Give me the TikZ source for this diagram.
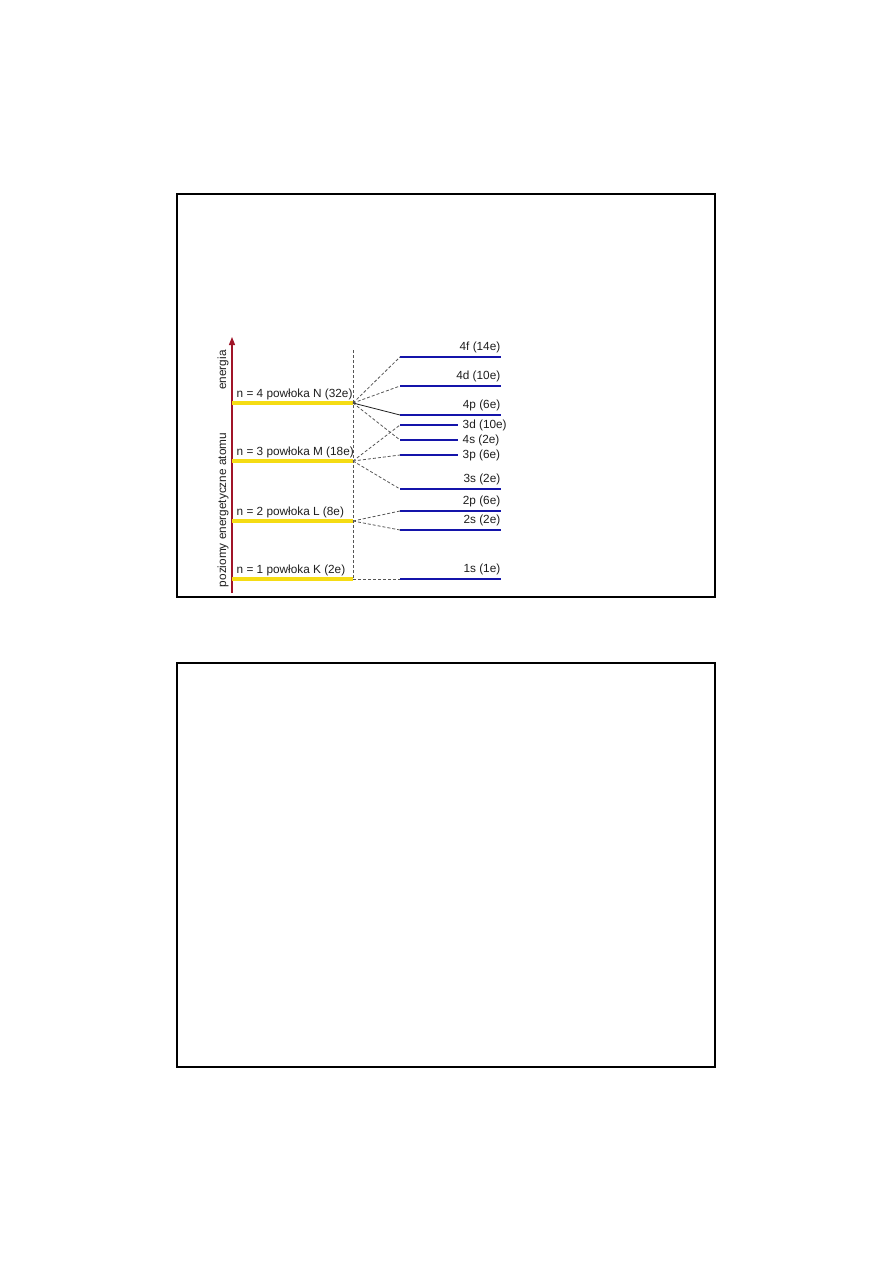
\documentclass[tikz,border=0pt]{standalone}
\usepackage{fontspec}
\setmainfont{Liberation Sans}
\usepackage{tikz}
\usetikzlibrary{arrows.meta}
\usepackage{xcolor}
\definecolor{myred}{RGB}{160,20,40}
\definecolor{myyellow}{RGB}{245,220,20}
\definecolor{myblue}{RGB}{20,20,170}
\definecolor{mygray}{RGB}{85,85,85}
\definecolor{mydark}{RGB}{30,30,30}

\begin{document}
\begin{tikzpicture}[x=1pt,y=-1pt,
  shell/.style={line width=3.8pt,myyellow},
  sub/.style={line width=2.2pt,myblue},
  link/.style={mygray,line width=0.8pt,dash pattern=on 3pt off 2pt},
  lbl/.style={font=\fontsize{11.8}{14}\selectfont,inner sep=0.5pt,text=mydark}]
  \useasboundingbox (0,0) rectangle (893,1263);
  \draw[line width=1.5pt] (177,194) rectangle (715,597);
  \draw[line width=1.5pt] (177,663) rectangle (715,1067);

  % energy axis
  \coordinate (ax0) at (232,593);
  \coordinate (ax1) at (232,337);
  \draw[myred,line width=1.2pt,-{Triangle[length=8pt,width=6pt]}] (ax0)--(ax1);
  \node[lbl,rotate=90] (en) at (223,370) {energia};
  \node[lbl,rotate=90] (pz) at (223,510) {poziomy energetyczne atomu};

  % shells
  \coordinate (v0) at (353,350);
  \coordinate (v1) at (353,579);
  \draw[link] (v0)--(v1);
  \coordinate (N0) at (232,403); \coordinate (N) at (353,403);
  \coordinate (M0) at (232,461); \coordinate (M) at (353,461);
  \coordinate (L0) at (232,521); \coordinate (L) at (353,521);
  \coordinate (K0) at (232,579); \coordinate (K) at (353,579);
  \draw[shell] (N0)--(N);
  \draw[shell] (M0)--(M);
  \draw[shell] (L0)--(L);
  \draw[shell] (K0)--(K);
  \node[lbl,anchor=south west] (tN) at (236,401) {n = 4 powłoka N (32e)};
  \node[lbl,anchor=south west] (tM) at (236,459) {n = 3 powłoka M (18e)};
  \node[lbl,anchor=south west] (tL) at (236,519) {n = 2 powłoka L (8e)};
  \node[lbl,anchor=south west] (tK) at (236,577) {n = 1 powłoka K (2e)};

  % subshells
  \coordinate (s4f) at (400,357); \coordinate (e4f) at (501,357);
  \coordinate (s4d) at (400,386); \coordinate (e4d) at (501,386);
  \coordinate (s4p) at (400,415); \coordinate (e4p) at (501,415);
  \coordinate (s3d) at (400,425); \coordinate (e3d) at (458,425);
  \coordinate (s4s) at (400,440); \coordinate (e4s) at (458,440);
  \coordinate (s3p) at (400,455); \coordinate (e3p) at (458,455);
  \coordinate (s3s) at (400,489); \coordinate (e3s) at (501,489);
  \coordinate (s2p) at (400,511); \coordinate (e2p) at (501,511);
  \coordinate (s2s) at (400,530); \coordinate (e2s) at (501,530);
  \coordinate (s1s) at (400,579); \coordinate (e1s) at (501,579);
  \foreach \o in {4f,4d,4p,3d,3p,3s,2p,2s,1s}
    \draw[sub] (s\o)--(e\o);
  \draw[sub,line width=1.4pt] (s4s)--(e4s);

  \node[lbl,anchor=south east] (t4f) at (501,354) {4f (14e)};
  \node[lbl,anchor=south east] (t4d) at (501,383) {4d (10e)};
  \node[lbl,anchor=south east] (t4p) at (501,412) {4p (6e)};
  \node[lbl,anchor=west] (t3d) at (462,425) {3d (10e)};
  \node[lbl,anchor=west] (t4s) at (462,440) {4s (2e)};
  \node[lbl,anchor=west] (t3p) at (462,455) {3p (6e)};
  \node[lbl,anchor=south east] (t3s) at (501,486) {3s (2e)};
  \node[lbl,anchor=south east] (t2p) at (501,508) {2p (6e)};
  \node[lbl,anchor=south east] (t2s) at (501,527) {2s (2e)};
  \node[lbl,anchor=south east] (t1s) at (501,576) {1s (1e)};

  % connectors
  \draw[link] (N)--(s4f);
  \draw[link] (N)--(s4d);
  \draw[mydark,line width=0.8pt] (N)--(s4p);
  \draw[link] (N)--(s4s);
  \draw[link] (M)--(s3d);
  \draw[link] (M)--(s3p);
  \draw[link] (M)--(s3s);
  \draw[link] (L)--(s2p);
  \draw[link] (L)--(s2s);
  \draw[link] (K)--(s1s);
\end{tikzpicture}
\end{document}
